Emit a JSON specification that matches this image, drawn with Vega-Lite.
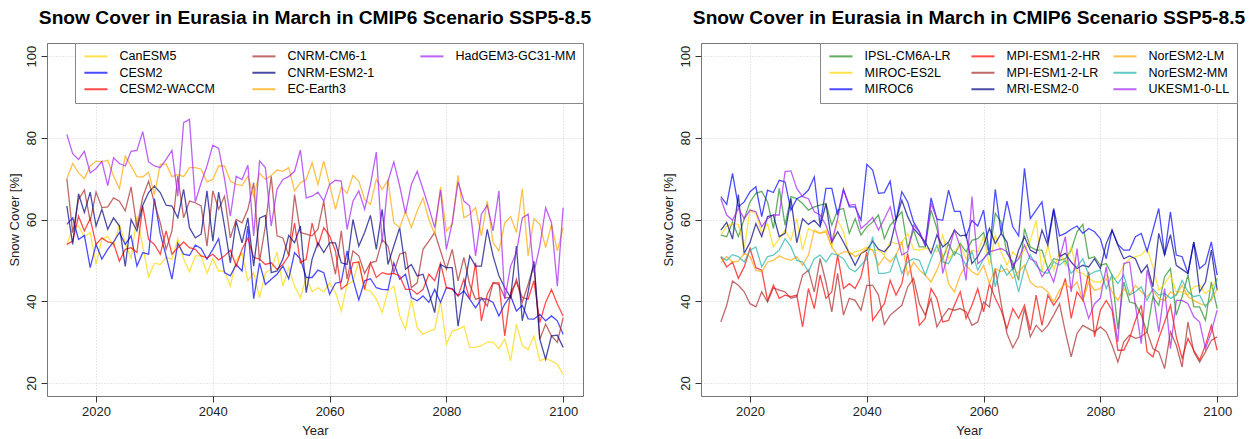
{
  "$schema": "https://vega.github.io/schema/vega-lite/v6.json",
  "padding": {"left": 7, "top": 8, "right": 4, "bottom": 2},
  "spacing": 69,
  "config": {
    "font": "Liberation Sans",
    "view": {"stroke": "#777", "strokeWidth": 1},
    "axis": {"domain": false, "tickColor": "#333", "tickSize": 6, "labelFontSize": 13, "titleFontSize": 13, "titleFontWeight": "normal", "labelColor": "#222", "titleColor": "#222", "gridColor": "#d3d3d3", "gridDash": [1, 2], "gridWidth": 1, "labelPadding": 3},
    "title": {"fontSize": 19.2, "fontWeight": "bold", "font": "Liberation Sans", "color": "black", "offset": 14, "anchor": "middle"},
    "legend": {"orient": "top-right", "offset": 0, "columns": 3, "title": null, "symbolType": "M-1,0H5", "symbolStrokeWidth": 2, "symbolSize": 59, "strokeColor": "#888", "fillColor": "white", "padding": 7, "rowPadding": 3.5, "columnPadding": 8, "gridAlign": "all", "labelFontSize": 12.5, "labelOffset": 25, "labelColor": "black", "symbolOpacity": 0.7, "labelLimit": 300}
  },
  "datasets": {
    "left": [
      {"Year":2015,"CanESM5":53.9,"CESM2":58.8,"CESM2-WACCM":53.9,"CNRM-CM6-1":70,"CNRM-ESM2-1":63.3,"EC-Earth3":70,"HadGEM3-GC31-MM":80.8},
      {"Year":2016,"CanESM5":58,"CESM2":60.4,"CESM2-WACCM":54.7,"CNRM-CM6-1":56.8,"CNRM-ESM2-1":53.9,"EC-Earth3":73.7,"HadGEM3-GC31-MM":76.1},
      {"Year":2017,"CanESM5":58.4,"CESM2":55.1,"CESM2-WACCM":60.8,"CNRM-CM6-1":64.9,"CNRM-ESM2-1":66.3,"EC-Earth3":71.4,"HadGEM3-GC31-MM":74.7},
      {"Year":2018,"CanESM5":55.8,"CESM2":56.1,"CESM2-WACCM":57.2,"CNRM-CM6-1":67.2,"CNRM-ESM2-1":61.7,"EC-Earth3":70,"HadGEM3-GC31-MM":76.7},
      {"Year":2019,"CanESM5":56.8,"CESM2":48.2,"CESM2-WACCM":60.2,"CNRM-CM6-1":59.6,"CNRM-ESM2-1":66.7,"EC-Earth3":73.1,"HadGEM3-GC31-MM":71.4},
      {"Year":2020,"CanESM5":49,"CESM2":53.9,"CESM2-WACCM":53.9,"CNRM-CM6-1":66.7,"CNRM-ESM2-1":58.4,"EC-Earth3":74.3,"HadGEM3-GC31-MM":72.5},
      {"Year":2021,"CanESM5":55.1,"CESM2":50.3,"CESM2-WACCM":55.5,"CNRM-CM6-1":62.9,"CNRM-ESM2-1":62.5,"EC-Earth3":74.1,"HadGEM3-GC31-MM":74.2},
      {"Year":2022,"CanESM5":55.9,"CESM2":52.7,"CESM2-WACCM":54.5,"CNRM-CM6-1":63.1,"CNRM-ESM2-1":57.6,"EC-Earth3":74.5,"HadGEM3-GC31-MM":68.3},
      {"Year":2023,"CanESM5":53.5,"CESM2":54.5,"CESM2-WACCM":54.2,"CNRM-CM6-1":65.3,"CNRM-ESM2-1":60.4,"EC-Earth3":70.6,"HadGEM3-GC31-MM":75.1},
      {"Year":2024,"CanESM5":58.8,"CESM2":56.8,"CESM2-WACCM":49.8,"CNRM-CM6-1":64.5,"CNRM-ESM2-1":58.4,"EC-Earth3":67.5,"HadGEM3-GC31-MM":73.7},
      {"Year":2025,"CanESM5":54.3,"CESM2":53.9,"CESM2-WACCM":52.7,"CNRM-CM6-1":62.1,"CNRM-ESM2-1":48.5,"EC-Earth3":75.5,"HadGEM3-GC31-MM":73.1},
      {"Year":2026,"CanESM5":50.4,"CESM2":56,"CESM2-WACCM":53.1,"CNRM-CM6-1":68,"CNRM-ESM2-1":60,"EC-Earth3":73.1,"HadGEM3-GC31-MM":76.7},
      {"Year":2027,"CanESM5":60.8,"CESM2":48.6,"CESM2-WACCM":51.9,"CNRM-CM6-1":58,"CNRM-ESM2-1":57.2,"EC-Earth3":70.5,"HadGEM3-GC31-MM":76.9},
      {"Year":2028,"CanESM5":53.5,"CESM2":51.9,"CESM2-WACCM":63.3,"CNRM-CM6-1":65.5,"CNRM-ESM2-1":63.5,"EC-Earth3":70.4,"HadGEM3-GC31-MM":81.5},
      {"Year":2029,"CanESM5":46,"CESM2":51.5,"CESM2-WACCM":55.1,"CNRM-CM6-1":69.4,"CNRM-ESM2-1":66.6,"EC-Earth3":71.6,"HadGEM3-GC31-MM":74.1},
      {"Year":2030,"CanESM5":49.3,"CESM2":65.1,"CESM2-WACCM":53.9,"CNRM-CM6-1":64.1,"CNRM-ESM2-1":68.2,"EC-Earth3":66.1,"HadGEM3-GC31-MM":73.1},
      {"Year":2031,"CanESM5":49,"CESM2":56.4,"CESM2-WACCM":51.5,"CNRM-CM6-1":59.2,"CNRM-ESM2-1":66.6,"EC-Earth3":73.5,"HadGEM3-GC31-MM":72.7},
      {"Year":2032,"CanESM5":50.7,"CESM2":51.1,"CESM2-WACCM":57.2,"CNRM-CM6-1":52.7,"CNRM-ESM2-1":63.5,"EC-Earth3":73.6,"HadGEM3-GC31-MM":74.7},
      {"Year":2033,"CanESM5":50.3,"CESM2":45.4,"CESM2-WACCM":51.5,"CNRM-CM6-1":57.2,"CNRM-ESM2-1":63.3,"EC-Earth3":70.5,"HadGEM3-GC31-MM":76.9},
      {"Year":2034,"CanESM5":55.3,"CESM2":54.2,"CESM2-WACCM":53.1,"CNRM-CM6-1":70.6,"CNRM-ESM2-1":60.4,"EC-Earth3":71,"HadGEM3-GC31-MM":65.7},
      {"Year":2035,"CanESM5":50.3,"CESM2":51.5,"CESM2-WACCM":54.5,"CNRM-CM6-1":60.4,"CNRM-ESM2-1":67.4,"EC-Earth3":70.5,"HadGEM3-GC31-MM":83.7},
      {"Year":2036,"CanESM5":47.2,"CESM2":51.2,"CESM2-WACCM":53.1,"CNRM-CM6-1":64.5,"CNRM-ESM2-1":58,"EC-Earth3":72.7,"HadGEM3-GC31-MM":84.5},
      {"Year":2037,"CanESM5":51.1,"CESM2":53.7,"CESM2-WACCM":52.7,"CNRM-CM6-1":64.1,"CNRM-ESM2-1":55.5,"EC-Earth3":72.7,"HadGEM3-GC31-MM":64.3},
      {"Year":2038,"CanESM5":51.1,"CESM2":52.9,"CESM2-WACCM":51.1,"CNRM-CM6-1":63.3,"CNRM-ESM2-1":56.4,"EC-Earth3":72.3,"HadGEM3-GC31-MM":69},
      {"Year":2039,"CanESM5":46.8,"CESM2":50.3,"CESM2-WACCM":50.6,"CNRM-CM6-1":53.5,"CNRM-ESM2-1":67,"EC-Earth3":69.2,"HadGEM3-GC31-MM":73.1},
      {"Year":2040,"CanESM5":50.4,"CESM2":52.7,"CESM2-WACCM":51.5,"CNRM-CM6-1":67,"CNRM-ESM2-1":54.7,"EC-Earth3":69.8,"HadGEM3-GC31-MM":78.2},
      {"Year":2041,"CanESM5":47.4,"CESM2":55.3,"CESM2-WACCM":50.1,"CNRM-CM6-1":62.5,"CNRM-ESM2-1":66.7,"EC-Earth3":73.1,"HadGEM3-GC31-MM":77.4},
      {"Year":2042,"CanESM5":47.4,"CESM2":47,"CESM2-WACCM":51.1,"CNRM-CM6-1":65.7,"CNRM-ESM2-1":58.4,"EC-Earth3":73.1,"HadGEM3-GC31-MM":70},
      {"Year":2043,"CanESM5":43.7,"CESM2":46.2,"CESM2-WACCM":52.5,"CNRM-CM6-1":55.5,"CNRM-ESM2-1":49.4,"EC-Earth3":69.4,"HadGEM3-GC31-MM":60.8},
      {"Year":2044,"CanESM5":50.1,"CESM2":49,"CESM2-WACCM":48.6,"CNRM-CM6-1":60,"CNRM-ESM2-1":59.6,"EC-Earth3":68.6,"HadGEM3-GC31-MM":70.6},
      {"Year":2045,"CanESM5":51.7,"CESM2":47.4,"CESM2-WACCM":52.7,"CNRM-CM6-1":59.2,"CNRM-ESM2-1":54.3,"EC-Earth3":68.3,"HadGEM3-GC31-MM":69.8},
      {"Year":2046,"CanESM5":45,"CESM2":58.4,"CESM2-WACCM":55.5,"CNRM-CM6-1":62.5,"CNRM-ESM2-1":60.4,"EC-Earth3":70.6,"HadGEM3-GC31-MM":73.3},
      {"Year":2047,"CanESM5":47,"CESM2":40.6,"CESM2-WACCM":50.7,"CNRM-CM6-1":69,"CNRM-ESM2-1":48.6,"EC-Earth3":65.7,"HadGEM3-GC31-MM":56},
      {"Year":2048,"CanESM5":40.9,"CESM2":49.4,"CESM2-WACCM":50.3,"CNRM-CM6-1":49.8,"CNRM-ESM2-1":60.3,"EC-Earth3":71.3,"HadGEM3-GC31-MM":74.3},
      {"Year":2049,"CanESM5":47,"CESM2":44.1,"CESM2-WACCM":49,"CNRM-CM6-1":58.4,"CNRM-ESM2-1":61,"EC-Earth3":69.8,"HadGEM3-GC31-MM":72.7},
      {"Year":2050,"CanESM5":47.8,"CESM2":45.4,"CESM2-WACCM":49.4,"CNRM-CM6-1":70.6,"CNRM-ESM2-1":47,"EC-Earth3":70.8,"HadGEM3-GC31-MM":58.4},
      {"Year":2051,"CanESM5":52,"CESM2":46.6,"CESM2-WACCM":47.8,"CNRM-CM6-1":56,"CNRM-ESM2-1":47.4,"EC-Earth3":72.1,"HadGEM3-GC31-MM":67.4},
      {"Year":2052,"CanESM5":43.7,"CESM2":48.6,"CESM2-WACCM":49,"CNRM-CM6-1":55.5,"CNRM-ESM2-1":50.3,"EC-Earth3":71.8,"HadGEM3-GC31-MM":69.8},
      {"Year":2053,"CanESM5":48.2,"CESM2":45.5,"CESM2-WACCM":51.1,"CNRM-CM6-1":51.1,"CNRM-ESM2-1":56.1,"EC-Earth3":72.7,"HadGEM3-GC31-MM":70.5},
      {"Year":2054,"CanESM5":43.7,"CESM2":51.9,"CESM2-WACCM":59.1,"CNRM-CM6-1":66.1,"CNRM-ESM2-1":54.3,"EC-Earth3":67,"HadGEM3-GC31-MM":71.8},
      {"Year":2055,"CanESM5":40.9,"CESM2":50.3,"CESM2-WACCM":49.4,"CNRM-CM6-1":56.8,"CNRM-ESM2-1":58.4,"EC-Earth3":69,"HadGEM3-GC31-MM":77},
      {"Year":2056,"CanESM5":45.8,"CESM2":45.8,"CESM2-WACCM":50.3,"CNRM-CM6-1":56.4,"CNRM-ESM2-1":42.1,"EC-Earth3":69.8,"HadGEM3-GC31-MM":65.3},
      {"Year":2057,"CanESM5":42.3,"CESM2":45.8,"CESM2-WACCM":59.1,"CNRM-CM6-1":56,"CNRM-ESM2-1":50.3,"EC-Earth3":73.9,"HadGEM3-GC31-MM":65.7},
      {"Year":2058,"CanESM5":43.3,"CESM2":47.6,"CESM2-WACCM":53.5,"CNRM-CM6-1":57.6,"CNRM-ESM2-1":54.3,"EC-Earth3":68.6,"HadGEM3-GC31-MM":66.7},
      {"Year":2059,"CanESM5":42.3,"CESM2":47,"CESM2-WACCM":58,"CNRM-CM6-1":64.5,"CNRM-ESM2-1":51.9,"EC-Earth3":74.3,"HadGEM3-GC31-MM":64.5},
      {"Year":2060,"CanESM5":44.5,"CESM2":41.7,"CESM2-WACCM":56,"CNRM-CM6-1":53.5,"CNRM-ESM2-1":54.3,"EC-Earth3":68.6,"HadGEM3-GC31-MM":68.6},
      {"Year":2061,"CanESM5":42.1,"CESM2":44.4,"CESM2-WACCM":52.3,"CNRM-CM6-1":46.6,"CNRM-ESM2-1":54.3,"EC-Earth3":62.5,"HadGEM3-GC31-MM":69.6},
      {"Year":2062,"CanESM5":37.6,"CESM2":44.7,"CESM2-WACCM":42.9,"CNRM-CM6-1":57.2,"CNRM-ESM2-1":49.4,"EC-Earth3":67.9,"HadGEM3-GC31-MM":69.4},
      {"Year":2063,"CanESM5":44.1,"CESM2":52.3,"CESM2-WACCM":44.1,"CNRM-CM6-1":45.4,"CNRM-ESM2-1":49,"EC-Earth3":66.4,"HadGEM3-GC31-MM":57.6},
      {"Year":2064,"CanESM5":44.9,"CESM2":45.4,"CESM2-WACCM":49.4,"CNRM-CM6-1":52.3,"CNRM-ESM2-1":60,"EC-Earth3":70.8,"HadGEM3-GC31-MM":64.5},
      {"Year":2065,"CanESM5":49.8,"CESM2":40.3,"CESM2-WACCM":49.6,"CNRM-CM6-1":51.1,"CNRM-ESM2-1":53.5,"EC-Earth3":69.4,"HadGEM3-GC31-MM":67},
      {"Year":2066,"CanESM5":42.9,"CESM2":45,"CESM2-WACCM":42.9,"CNRM-CM6-1":46.8,"CNRM-ESM2-1":56.8,"EC-Earth3":64.9,"HadGEM3-GC31-MM":62.5},
      {"Year":2067,"CanESM5":42.5,"CESM2":45.5,"CESM2-WACCM":49.4,"CNRM-CM6-1":49.4,"CNRM-ESM2-1":61,"EC-Earth3":63.7,"HadGEM3-GC31-MM":68.6},
      {"Year":2068,"CanESM5":40.5,"CESM2":43.3,"CESM2-WACCM":45.8,"CNRM-CM6-1":49.8,"CNRM-ESM2-1":52.7,"EC-Earth3":69.8,"HadGEM3-GC31-MM":76.5},
      {"Year":2069,"CanESM5":37.2,"CESM2":42.9,"CESM2-WACCM":47,"CNRM-CM6-1":55.1,"CNRM-ESM2-1":62.5,"EC-Earth3":67.4,"HadGEM3-GC31-MM":54.3},
      {"Year":2070,"CanESM5":42.5,"CESM2":42.8,"CESM2-WACCM":46.6,"CNRM-CM6-1":53.5,"CNRM-ESM2-1":49,"EC-Earth3":69.6,"HadGEM3-GC31-MM":69.4},
      {"Year":2071,"CanESM5":43.7,"CESM2":49.4,"CESM2-WACCM":46.8,"CNRM-CM6-1":47,"CNRM-ESM2-1":53.5,"EC-Earth3":59.2,"HadGEM3-GC31-MM":74.1},
      {"Year":2072,"CanESM5":36.4,"CESM2":45.4,"CESM2-WACCM":46.2,"CNRM-CM6-1":51.5,"CNRM-ESM2-1":58,"EC-Earth3":58,"HadGEM3-GC31-MM":68.2},
      {"Year":2073,"CanESM5":33.1,"CESM2":46.6,"CESM2-WACCM":42.9,"CNRM-CM6-1":52,"CNRM-ESM2-1":47.8,"EC-Earth3":62,"HadGEM3-GC31-MM":61.5},
      {"Year":2074,"CanESM5":40.5,"CESM2":40.9,"CESM2-WACCM":42.9,"CNRM-CM6-1":43.3,"CNRM-ESM2-1":49,"EC-Earth3":58,"HadGEM3-GC31-MM":68.6},
      {"Year":2075,"CanESM5":33.5,"CESM2":40.1,"CESM2-WACCM":41.7,"CNRM-CM6-1":44.5,"CNRM-ESM2-1":46.2,"EC-Earth3":62.1,"HadGEM3-GC31-MM":71.8},
      {"Year":2076,"CanESM5":31.9,"CESM2":41.3,"CESM2-WACCM":42.9,"CNRM-CM6-1":52.7,"CNRM-ESM2-1":46.6,"EC-Earth3":65.3,"HadGEM3-GC31-MM":67.4},
      {"Year":2077,"CanESM5":32.7,"CESM2":39.7,"CESM2-WACCM":46.6,"CNRM-CM6-1":54.7,"CNRM-ESM2-1":42.1,"EC-Earth3":60,"HadGEM3-GC31-MM":62.9},
      {"Year":2078,"CanESM5":33.1,"CESM2":42.9,"CESM2-WACCM":45,"CNRM-CM6-1":56.8,"CNRM-ESM2-1":37.2,"EC-Earth3":56.4,"HadGEM3-GC31-MM":58},
      {"Year":2079,"CanESM5":40.1,"CESM2":39.7,"CESM2-WACCM":49.3,"CNRM-CM6-1":52.3,"CNRM-ESM2-1":49,"EC-Earth3":68,"HadGEM3-GC31-MM":67.2},
      {"Year":2080,"CanESM5":29.5,"CESM2":43.3,"CESM2-WACCM":43.3,"CNRM-CM6-1":47.8,"CNRM-ESM2-1":48.2,"EC-Earth3":57.2,"HadGEM3-GC31-MM":52.7},
      {"Year":2081,"CanESM5":32.7,"CESM2":43.1,"CESM2-WACCM":42.9,"CNRM-CM6-1":52.7,"CNRM-ESM2-1":48.2,"EC-Earth3":58.8,"HadGEM3-GC31-MM":59.2},
      {"Year":2082,"CanESM5":33.1,"CESM2":41.3,"CESM2-WACCM":41.3,"CNRM-CM6-1":45,"CNRM-ESM2-1":33.9,"EC-Earth3":70.8,"HadGEM3-GC31-MM":69.2},
      {"Year":2083,"CanESM5":33.9,"CESM2":42.5,"CESM2-WACCM":45.4,"CNRM-CM6-1":50.7,"CNRM-ESM2-1":42.9,"EC-Earth3":60.4,"HadGEM3-GC31-MM":64.5},
      {"Year":2084,"CanESM5":28.7,"CESM2":40.5,"CESM2-WACCM":40.5,"CNRM-CM6-1":44.1,"CNRM-ESM2-1":51.1,"EC-Earth3":61.3,"HadGEM3-GC31-MM":63.3},
      {"Year":2085,"CanESM5":28.7,"CESM2":38.4,"CESM2-WACCM":49.4,"CNRM-CM6-1":40.5,"CNRM-ESM2-1":48.6,"EC-Earth3":62.9,"HadGEM3-GC31-MM":51.1},
      {"Year":2086,"CanESM5":29.1,"CESM2":40.6,"CESM2-WACCM":35.2,"CNRM-CM6-1":40.9,"CNRM-ESM2-1":48.6,"EC-Earth3":56,"HadGEM3-GC31-MM":61.3},
      {"Year":2087,"CanESM5":30,"CESM2":40.5,"CESM2-WACCM":41.7,"CNRM-CM6-1":38.8,"CNRM-ESM2-1":57.6,"EC-Earth3":64.5,"HadGEM3-GC31-MM":63.5},
      {"Year":2088,"CanESM5":30,"CESM2":39.7,"CESM2-WACCM":44.5,"CNRM-CM6-1":44.5,"CNRM-ESM2-1":51.1,"EC-Earth3":54.3,"HadGEM3-GC31-MM":57.2},
      {"Year":2089,"CanESM5":28.4,"CESM2":36.4,"CESM2-WACCM":44.5,"CNRM-CM6-1":44.1,"CNRM-ESM2-1":46.2,"EC-Earth3":52.3,"HadGEM3-GC31-MM":67},
      {"Year":2090,"CanESM5":30.7,"CESM2":39.3,"CESM2-WACCM":31.5,"CNRM-CM6-1":40.9,"CNRM-ESM2-1":43.3,"EC-Earth3":59.2,"HadGEM3-GC31-MM":40.5},
      {"Year":2091,"CanESM5":25.4,"CESM2":41.3,"CESM2-WACCM":42.1,"CNRM-CM6-1":40.9,"CNRM-ESM2-1":40.9,"EC-Earth3":60.7,"HadGEM3-GC31-MM":48.6},
      {"Year":2092,"CanESM5":34.4,"CESM2":37.6,"CESM2-WACCM":44.7,"CNRM-CM6-1":45.4,"CNRM-ESM2-1":53.5,"EC-Earth3":56.8,"HadGEM3-GC31-MM":51.9},
      {"Year":2093,"CanESM5":29.1,"CESM2":39,"CESM2-WACCM":40.9,"CNRM-CM6-1":39.7,"CNRM-ESM2-1":35.2,"EC-Earth3":67.5,"HadGEM3-GC31-MM":60.4},
      {"Year":2094,"CanESM5":28.2,"CESM2":35.7,"CESM2-WACCM":40.5,"CNRM-CM6-1":44.1,"CNRM-ESM2-1":42.3,"EC-Earth3":51.1,"HadGEM3-GC31-MM":61.3},
      {"Year":2095,"CanESM5":31.5,"CESM2":35.6,"CESM2-WACCM":45,"CNRM-CM6-1":49,"CNRM-ESM2-1":49.8,"EC-Earth3":60.2,"HadGEM3-GC31-MM":47},
      {"Year":2096,"CanESM5":25.4,"CESM2":36.8,"CESM2-WACCM":34.8,"CNRM-CM6-1":30.7,"CNRM-ESM2-1":30.7,"EC-Earth3":58.8,"HadGEM3-GC31-MM":53.5},
      {"Year":2097,"CanESM5":26,"CESM2":35.2,"CESM2-WACCM":39.7,"CNRM-CM6-1":34.4,"CNRM-ESM2-1":25.8,"EC-Earth3":53.1,"HadGEM3-GC31-MM":62.9},
      {"Year":2098,"CanESM5":25.4,"CESM2":36.4,"CESM2-WACCM":42.9,"CNRM-CM6-1":31.5,"CNRM-ESM2-1":31.5,"EC-Earth3":58.8,"HadGEM3-GC31-MM":59.2},
      {"Year":2099,"CanESM5":24.6,"CESM2":35.2,"CESM2-WACCM":39.3,"CNRM-CM6-1":29.9,"CNRM-ESM2-1":31.7,"EC-Earth3":52.3,"HadGEM3-GC31-MM":43.7},
      {"Year":2100,"CanESM5":22.1,"CESM2":31.9,"CESM2-WACCM":36.4,"CNRM-CM6-1":36,"CNRM-ESM2-1":28.7,"EC-Earth3":58,"HadGEM3-GC31-MM":62.9}
    ],
    "right": [
      {"Year":2015,"IPSL-CM6A-LR":56.2,"MIROC-ES2L":56.2,"MIROC6":65.6,"MPI-ESM1-2-HR":50.9,"MPI-ESM1-2-LR":34.9,"MRI-ESM2-0":57.4,"NorESM2-LM":49.5,"NorESM2-MM":50.9,"UKESM1-0-LL":65.1},
      {"Year":2016,"IPSL-CM6A-LR":55.8,"MIROC-ES2L":58.4,"MIROC6":63.7,"MPI-ESM1-2-HR":48.4,"MPI-ESM1-2-LR":39,"MRI-ESM2-0":59.3,"NorESM2-LM":50.9,"NorESM2-MM":50,"UKESM1-0-LL":61.1},
      {"Year":2017,"IPSL-CM6A-LR":59.4,"MIROC-ES2L":59,"MIROC6":71.3,"MPI-ESM1-2-HR":49.6,"MPI-ESM1-2-LR":44.9,"MRI-ESM2-0":55.2,"NorESM2-LM":49.6,"NorESM2-MM":51.4,"UKESM1-0-LL":59.8},
      {"Year":2018,"IPSL-CM6A-LR":55.8,"MIROC-ES2L":58.8,"MIROC6":63.1,"MPI-ESM1-2-HR":45.6,"MPI-ESM1-2-LR":43.9,"MRI-ESM2-0":66.1,"NorESM2-LM":49.8,"NorESM2-MM":50.9,"UKESM1-0-LL":62.7},
      {"Year":2019,"IPSL-CM6A-LR":60.2,"MIROC-ES2L":52.9,"MIROC6":64.3,"MPI-ESM1-2-HR":48.4,"MPI-ESM1-2-LR":42.3,"MRI-ESM2-0":51.7,"NorESM2-LM":51.7,"NorESM2-MM":49.6,"UKESM1-0-LL":60.2},
      {"Year":2020,"IPSL-CM6A-LR":64.3,"MIROC-ES2L":62.3,"MIROC6":66.8,"MPI-ESM1-2-HR":52.9,"MPI-ESM1-2-LR":39.4,"MRI-ESM2-0":54.4,"NorESM2-LM":50.9,"NorESM2-MM":52.5,"UKESM1-0-LL":62.3},
      {"Year":2021,"IPSL-CM6A-LR":66.4,"MIROC-ES2L":61.5,"MIROC6":68,"MPI-ESM1-2-HR":48.2,"MPI-ESM1-2-LR":38.6,"MRI-ESM2-0":59,"NorESM2-LM":47.6,"NorESM2-MM":53.3,"UKESM1-0-LL":61.9},
      {"Year":2022,"IPSL-CM6A-LR":66.9,"MIROC-ES2L":56.6,"MIROC6":60.7,"MPI-ESM1-2-HR":47.6,"MPI-ESM1-2-LR":42.3,"MRI-ESM2-0":55.8,"NorESM2-LM":47.2,"NorESM2-MM":48.4,"UKESM1-0-LL":58.2},
      {"Year":2023,"IPSL-CM6A-LR":64.3,"MIROC-ES2L":59,"MIROC6":67.2,"MPI-ESM1-2-HR":40.2,"MPI-ESM1-2-LR":39.8,"MRI-ESM2-0":60.7,"NorESM2-LM":49.6,"NorESM2-MM":50.9,"UKESM1-0-LL":60.2},
      {"Year":2024,"IPSL-CM6A-LR":57.8,"MIROC-ES2L":53.3,"MIROC6":66.6,"MPI-ESM1-2-HR":43.9,"MPI-ESM1-2-LR":43.3,"MRI-ESM2-0":61.1,"NorESM2-LM":50,"NorESM2-MM":51.3,"UKESM1-0-LL":61.1},
      {"Year":2025,"IPSL-CM6A-LR":67.6,"MIROC-ES2L":55.3,"MIROC6":69.6,"MPI-ESM1-2-HR":40.7,"MPI-ESM1-2-LR":42.7,"MRI-ESM2-0":55.8,"NorESM2-LM":51.1,"NorESM2-MM":52.5,"UKESM1-0-LL":61.1},
      {"Year":2026,"IPSL-CM6A-LR":58.6,"MIROC-ES2L":57.4,"MIROC6":69.2,"MPI-ESM1-2-HR":41.5,"MPI-ESM1-2-LR":42.3,"MRI-ESM2-0":56.6,"NorESM2-LM":50.4,"NorESM2-MM":55.3,"UKESM1-0-LL":71.7},
      {"Year":2027,"IPSL-CM6A-LR":65.6,"MIROC-ES2L":54.9,"MIROC6":62.3,"MPI-ESM1-2-HR":41.1,"MPI-ESM1-2-LR":40.7,"MRI-ESM2-0":65.1,"NorESM2-LM":50,"NorESM2-MM":53.3,"UKESM1-0-LL":71.9},
      {"Year":2028,"IPSL-CM6A-LR":65.1,"MIROC-ES2L":60.2,"MIROC6":65.1,"MPI-ESM1-2-HR":41.5,"MPI-ESM1-2-LR":41.1,"MRI-ESM2-0":54.3,"NorESM2-LM":50.9,"NorESM2-MM":50,"UKESM1-0-LL":67.6},
      {"Year":2029,"IPSL-CM6A-LR":63.9,"MIROC-ES2L":52.5,"MIROC6":65.8,"MPI-ESM1-2-HR":33.7,"MPI-ESM1-2-LR":46.4,"MRI-ESM2-0":60.2,"NorESM2-LM":48.8,"NorESM2-MM":49.6,"UKESM1-0-LL":65.6},
      {"Year":2030,"IPSL-CM6A-LR":62.3,"MIROC-ES2L":57.8,"MIROC6":67.2,"MPI-ESM1-2-HR":43.1,"MPI-ESM1-2-LR":47.6,"MRI-ESM2-0":58.8,"NorESM2-LM":51.3,"NorESM2-MM":47.2,"UKESM1-0-LL":65.1},
      {"Year":2031,"IPSL-CM6A-LR":63.1,"MIROC-ES2L":57,"MIROC6":70.4,"MPI-ESM1-2-HR":38.2,"MPI-ESM1-2-LR":42.3,"MRI-ESM2-0":59.8,"NorESM2-LM":57.4,"NorESM2-MM":50.4,"UKESM1-0-LL":61.9},
      {"Year":2032,"IPSL-CM6A-LR":63.5,"MIROC-ES2L":56.6,"MIROC6":58.6,"MPI-ESM1-2-HR":46.4,"MPI-ESM1-2-LR":50.4,"MRI-ESM2-0":58.2,"NorESM2-LM":56.6,"NorESM2-MM":51.3,"UKESM1-0-LL":61.1},
      {"Year":2033,"IPSL-CM6A-LR":63.9,"MIROC-ES2L":57.4,"MIROC6":67.6,"MPI-ESM1-2-HR":40.7,"MPI-ESM1-2-LR":44.7,"MRI-ESM2-0":63.9,"NorESM2-LM":57,"NorESM2-MM":49.6,"UKESM1-0-LL":58.6},
      {"Year":2034,"IPSL-CM6A-LR":58.6,"MIROC-ES2L":53.3,"MIROC6":67.6,"MPI-ESM1-2-HR":42.3,"MPI-ESM1-2-LR":37.4,"MRI-ESM2-0":54.5,"NorESM2-LM":53.3,"NorESM2-MM":51.7,"UKESM1-0-LL":54.5},
      {"Year":2035,"IPSL-CM6A-LR":62.3,"MIROC-ES2L":59.8,"MIROC6":61.1,"MPI-ESM1-2-HR":51.3,"MPI-ESM1-2-LR":46.8,"MRI-ESM2-0":57,"NorESM2-LM":51.3,"NorESM2-MM":51.3,"UKESM1-0-LL":60.2},
      {"Year":2036,"IPSL-CM6A-LR":62.7,"MIROC-ES2L":57,"MIROC6":67.4,"MPI-ESM1-2-HR":43.1,"MPI-ESM1-2-LR":36.6,"MRI-ESM2-0":54.5,"NorESM2-LM":52.1,"NorESM2-MM":50.4,"UKESM1-0-LL":67.2},
      {"Year":2037,"IPSL-CM6A-LR":56.6,"MIROC-ES2L":51.3,"MIROC6":63.1,"MPI-ESM1-2-HR":44.3,"MPI-ESM1-2-LR":40.7,"MRI-ESM2-0":51.7,"NorESM2-LM":52.1,"NorESM2-MM":48,"UKESM1-0-LL":63.5},
      {"Year":2038,"IPSL-CM6A-LR":60.2,"MIROC-ES2L":52.1,"MIROC6":63.1,"MPI-ESM1-2-HR":43.1,"MPI-ESM1-2-LR":40.2,"MRI-ESM2-0":48.8,"NorESM2-LM":50.9,"NorESM2-MM":47.2,"UKESM1-0-LL":63.7},
      {"Year":2039,"IPSL-CM6A-LR":56.2,"MIROC-ES2L":52.5,"MIROC6":59.8,"MPI-ESM1-2-HR":46,"MPI-ESM1-2-LR":37.8,"MRI-ESM2-0":51.7,"NorESM2-LM":51.7,"NorESM2-MM":48.8,"UKESM1-0-LL":57.8},
      {"Year":2040,"IPSL-CM6A-LR":58.2,"MIROC-ES2L":53.3,"MIROC6":73.5,"MPI-ESM1-2-HR":52.1,"MPI-ESM1-2-LR":43.9,"MRI-ESM2-0":52.5,"NorESM2-LM":52.9,"NorESM2-MM":50.4,"UKESM1-0-LL":59},
      {"Year":2041,"IPSL-CM6A-LR":59.4,"MIROC-ES2L":52.5,"MIROC6":72.1,"MPI-ESM1-2-HR":35.3,"MPI-ESM1-2-LR":43.9,"MRI-ESM2-0":54.7,"NorESM2-LM":52.5,"NorESM2-MM":55.8,"UKESM1-0-LL":60.5},
      {"Year":2042,"IPSL-CM6A-LR":61.1,"MIROC-ES2L":52.5,"MIROC6":66.4,"MPI-ESM1-2-HR":37.4,"MPI-ESM1-2-LR":41.5,"MRI-ESM2-0":52.7,"NorESM2-LM":48.8,"NorESM2-MM":46.8,"UKESM1-0-LL":57.4},
      {"Year":2043,"IPSL-CM6A-LR":55.3,"MIROC-ES2L":51.3,"MIROC6":66.6,"MPI-ESM1-2-HR":39.4,"MPI-ESM1-2-LR":34.3,"MRI-ESM2-0":52.1,"NorESM2-LM":50.9,"NorESM2-MM":46.8,"UKESM1-0-LL":60.2},
      {"Year":2044,"IPSL-CM6A-LR":58.6,"MIROC-ES2L":54.5,"MIROC6":69.4,"MPI-ESM1-2-HR":45.1,"MPI-ESM1-2-LR":36.6,"MRI-ESM2-0":53.7,"NorESM2-LM":49.6,"NorESM2-MM":47.2,"UKESM1-0-LL":63.1},
      {"Year":2045,"IPSL-CM6A-LR":60.2,"MIROC-ES2L":54.1,"MIROC6":59.8,"MPI-ESM1-2-HR":41.5,"MPI-ESM1-2-LR":37.8,"MRI-ESM2-0":59.8,"NorESM2-LM":51.3,"NorESM2-MM":51.3,"UKESM1-0-LL":57},
      {"Year":2046,"IPSL-CM6A-LR":61.9,"MIROC-ES2L":54.4,"MIROC6":66.8,"MPI-ESM1-2-HR":44.3,"MPI-ESM1-2-LR":39,"MRI-ESM2-0":64.7,"NorESM2-LM":54.5,"NorESM2-MM":46.8,"UKESM1-0-LL":51.3},
      {"Year":2047,"IPSL-CM6A-LR":52.9,"MIROC-ES2L":56.6,"MIROC6":64.3,"MPI-ESM1-2-HR":51.7,"MPI-ESM1-2-LR":43.5,"MRI-ESM2-0":60.7,"NorESM2-LM":46.4,"NorESM2-MM":49.6,"UKESM1-0-LL":52.1},
      {"Year":2048,"IPSL-CM6A-LR":57.4,"MIROC-ES2L":52.7,"MIROC6":59.4,"MPI-ESM1-2-HR":43.5,"MPI-ESM1-2-LR":45.6,"MRI-ESM2-0":57.8,"NorESM2-LM":49.6,"NorESM2-MM":50.4,"UKESM1-0-LL":58.6},
      {"Year":2049,"IPSL-CM6A-LR":53.3,"MIROC-ES2L":52.5,"MIROC6":57,"MPI-ESM1-2-HR":34.1,"MPI-ESM1-2-LR":39.4,"MRI-ESM2-0":56.2,"NorESM2-LM":47.6,"NorESM2-MM":50,"UKESM1-0-LL":57},
      {"Year":2050,"IPSL-CM6A-LR":53.3,"MIROC-ES2L":52.9,"MIROC6":53.7,"MPI-ESM1-2-HR":35.8,"MPI-ESM1-2-LR":36.6,"MRI-ESM2-0":54.5,"NorESM2-LM":46.4,"NorESM2-MM":46.4,"UKESM1-0-LL":53.7},
      {"Year":2051,"IPSL-CM6A-LR":62.3,"MIROC-ES2L":52.9,"MIROC6":65.3,"MPI-ESM1-2-HR":43.1,"MPI-ESM1-2-LR":40.7,"MRI-ESM2-0":51.7,"NorESM2-LM":44.7,"NorESM2-MM":50.4,"UKESM1-0-LL":63.9},
      {"Year":2052,"IPSL-CM6A-LR":57.8,"MIROC-ES2L":52.1,"MIROC6":60.1,"MPI-ESM1-2-HR":40.7,"MPI-ESM1-2-LR":33.7,"MRI-ESM2-0":56.2,"NorESM2-LM":47.6,"NorESM2-MM":53.7,"UKESM1-0-LL":60.2},
      {"Year":2053,"IPSL-CM6A-LR":50.4,"MIROC-ES2L":56.2,"MIROC6":59.8,"MPI-ESM1-2-HR":34.9,"MPI-ESM1-2-LR":36.2,"MRI-ESM2-0":53.3,"NorESM2-LM":51.3,"NorESM2-MM":49.6,"UKESM1-0-LL":46.8},
      {"Year":2054,"IPSL-CM6A-LR":54.1,"MIROC-ES2L":50.4,"MIROC6":67.2,"MPI-ESM1-2-HR":35.3,"MPI-ESM1-2-LR":38.2,"MRI-ESM2-0":54.5,"NorESM2-LM":44.3,"NorESM2-MM":49.2,"UKESM1-0-LL":52.1},
      {"Year":2055,"IPSL-CM6A-LR":51.3,"MIROC-ES2L":52.1,"MIROC6":62,"MPI-ESM1-2-HR":39,"MPI-ESM1-2-LR":37.8,"MRI-ESM2-0":57.4,"NorESM2-LM":42.3,"NorESM2-MM":52.1,"UKESM1-0-LL":57.4},
      {"Year":2056,"IPSL-CM6A-LR":54.1,"MIROC-ES2L":53.7,"MIROC6":62,"MPI-ESM1-2-HR":42.3,"MPI-ESM1-2-LR":38.2,"MRI-ESM2-0":56,"NorESM2-LM":46.4,"NorESM2-MM":51.3,"UKESM1-0-LL":53.3},
      {"Year":2057,"IPSL-CM6A-LR":52.1,"MIROC-ES2L":50.4,"MIROC6":55.8,"MPI-ESM1-2-HR":35.8,"MPI-ESM1-2-LR":37.4,"MRI-ESM2-0":56.2,"NorESM2-LM":48.8,"NorESM2-MM":48.8,"UKESM1-0-LL":45.1},
      {"Year":2058,"IPSL-CM6A-LR":54.9,"MIROC-ES2L":52.5,"MIROC6":59.8,"MPI-ESM1-2-HR":39,"MPI-ESM1-2-LR":34.1,"MRI-ESM2-0":49.2,"NorESM2-LM":47.2,"NorESM2-MM":52.1,"UKESM1-0-LL":65.6},
      {"Year":2059,"IPSL-CM6A-LR":55.3,"MIROC-ES2L":52.1,"MIROC6":58.4,"MPI-ESM1-2-HR":43.1,"MPI-ESM1-2-LR":34.9,"MRI-ESM2-0":50.9,"NorESM2-LM":46.4,"NorESM2-MM":47.6,"UKESM1-0-LL":49.2},
      {"Year":2060,"IPSL-CM6A-LR":56.8,"MIROC-ES2L":55.8,"MIROC6":62.3,"MPI-ESM1-2-HR":37.4,"MPI-ESM1-2-LR":39.8,"MRI-ESM2-0":53.7,"NorESM2-LM":48.8,"NorESM2-MM":50.4,"UKESM1-0-LL":50.4},
      {"Year":2061,"IPSL-CM6A-LR":51.3,"MIROC-ES2L":48.8,"MIROC6":51.3,"MPI-ESM1-2-HR":44.3,"MPI-ESM1-2-LR":38.6,"MRI-ESM2-0":57.8,"NorESM2-LM":44.3,"NorESM2-MM":52.5,"UKESM1-0-LL":52.1},
      {"Year":2062,"IPSL-CM6A-LR":61.5,"MIROC-ES2L":56.2,"MIROC6":67.4,"MPI-ESM1-2-HR":40.7,"MPI-ESM1-2-LR":48,"MRI-ESM2-0":54.1,"NorESM2-LM":48,"NorESM2-MM":43.5,"UKESM1-0-LL":52.5},
      {"Year":2063,"IPSL-CM6A-LR":59.4,"MIROC-ES2L":52.1,"MIROC6":56.6,"MPI-ESM1-2-HR":37.8,"MPI-ESM1-2-LR":39.4,"MRI-ESM2-0":56.6,"NorESM2-LM":47.2,"NorESM2-MM":48.8,"UKESM1-0-LL":52.9},
      {"Year":2064,"IPSL-CM6A-LR":51.7,"MIROC-ES2L":48.8,"MIROC6":64.5,"MPI-ESM1-2-HR":33.3,"MPI-ESM1-2-LR":32.1,"MRI-ESM2-0":54.5,"NorESM2-LM":48,"NorESM2-MM":46.4,"UKESM1-0-LL":52.1},
      {"Year":2065,"IPSL-CM6A-LR":49.6,"MIROC-ES2L":52.1,"MIROC6":58.2,"MPI-ESM1-2-HR":38.2,"MPI-ESM1-2-LR":28.6,"MRI-ESM2-0":47.6,"NorESM2-LM":45.6,"NorESM2-MM":48,"UKESM1-0-LL":48.8},
      {"Year":2066,"IPSL-CM6A-LR":45.1,"MIROC-ES2L":50.4,"MIROC6":56,"MPI-ESM1-2-HR":35.8,"MPI-ESM1-2-LR":31.3,"MRI-ESM2-0":52.5,"NorESM2-LM":47.2,"NorESM2-MM":42.3,"UKESM1-0-LL":50.4},
      {"Year":2067,"IPSL-CM6A-LR":57.8,"MIROC-ES2L":52.5,"MIROC6":72.5,"MPI-ESM1-2-HR":39,"MPI-ESM1-2-LR":38.2,"MRI-ESM2-0":55.8,"NorESM2-LM":48.8,"NorESM2-MM":48,"UKESM1-0-LL":53.7},
      {"Year":2068,"IPSL-CM6A-LR":53.3,"MIROC-ES2L":54.9,"MIROC6":60.2,"MPI-ESM1-2-HR":32.9,"MPI-ESM1-2-LR":31.3,"MRI-ESM2-0":52.5,"NorESM2-LM":44.7,"NorESM2-MM":51.3,"UKESM1-0-LL":50.4},
      {"Year":2069,"IPSL-CM6A-LR":52.5,"MIROC-ES2L":59.8,"MIROC6":62.3,"MPI-ESM1-2-HR":41.5,"MPI-ESM1-2-LR":34.1,"MRI-ESM2-0":51.7,"NorESM2-LM":43.5,"NorESM2-MM":48.8,"UKESM1-0-LL":49.6},
      {"Year":2070,"IPSL-CM6A-LR":52.5,"MIROC-ES2L":47.2,"MIROC6":64.3,"MPI-ESM1-2-HR":34.1,"MPI-ESM1-2-LR":32.5,"MRI-ESM2-0":57.4,"NorESM2-LM":43.5,"NorESM2-MM":47.2,"UKESM1-0-LL":46},
      {"Year":2071,"IPSL-CM6A-LR":48,"MIROC-ES2L":53.7,"MIROC6":54.5,"MPI-ESM1-2-HR":41.5,"MPI-ESM1-2-LR":34.1,"MRI-ESM2-0":53.7,"NorESM2-LM":42.3,"NorESM2-MM":46.8,"UKESM1-0-LL":48},
      {"Year":2072,"IPSL-CM6A-LR":50.4,"MIROC-ES2L":47.6,"MIROC6":62.7,"MPI-ESM1-2-HR":39,"MPI-ESM1-2-LR":36.6,"MRI-ESM2-0":62.3,"NorESM2-LM":39.8,"NorESM2-MM":49.6,"UKESM1-0-LL":44.7},
      {"Year":2073,"IPSL-CM6A-LR":50,"MIROC-ES2L":52.1,"MIROC6":56,"MPI-ESM1-2-HR":41.1,"MPI-ESM1-2-LR":39.4,"MRI-ESM2-0":50.9,"NorESM2-LM":42.7,"NorESM2-MM":48.8,"UKESM1-0-LL":50.4},
      {"Year":2074,"IPSL-CM6A-LR":50.4,"MIROC-ES2L":48.8,"MIROC6":56.6,"MPI-ESM1-2-HR":45.6,"MPI-ESM1-2-LR":32.5,"MRI-ESM2-0":51.7,"NorESM2-LM":44.3,"NorESM2-MM":50,"UKESM1-0-LL":55.8},
      {"Year":2075,"IPSL-CM6A-LR":52.5,"MIROC-ES2L":53.3,"MIROC6":57.6,"MPI-ESM1-2-HR":35.8,"MPI-ESM1-2-LR":26.4,"MRI-ESM2-0":49.6,"NorESM2-LM":43.1,"NorESM2-MM":46.8,"UKESM1-0-LL":42.3},
      {"Year":2076,"IPSL-CM6A-LR":57,"MIROC-ES2L":47.2,"MIROC6":58.4,"MPI-ESM1-2-HR":42.3,"MPI-ESM1-2-LR":32.1,"MRI-ESM2-0":48,"NorESM2-LM":44.7,"NorESM2-MM":48.4,"UKESM1-0-LL":52.9},
      {"Year":2077,"IPSL-CM6A-LR":58.8,"MIROC-ES2L":46.8,"MIROC6":56.6,"MPI-ESM1-2-HR":40.2,"MPI-ESM1-2-LR":34.1,"MRI-ESM2-0":48.8,"NorESM2-LM":40.2,"NorESM2-MM":50.4,"UKESM1-0-LL":40.7},
      {"Year":2078,"IPSL-CM6A-LR":50.4,"MIROC-ES2L":45.6,"MIROC6":57.8,"MPI-ESM1-2-HR":47.2,"MPI-ESM1-2-LR":33.3,"MRI-ESM2-0":48.4,"NorESM2-LM":44.7,"NorESM2-MM":46.4,"UKESM1-0-LL":35.8},
      {"Year":2079,"IPSL-CM6A-LR":50.9,"MIROC-ES2L":44.7,"MIROC6":57,"MPI-ESM1-2-HR":31.3,"MPI-ESM1-2-LR":32.5,"MRI-ESM2-0":50.4,"NorESM2-LM":42.7,"NorESM2-MM":47.2,"UKESM1-0-LL":39.4},
      {"Year":2080,"IPSL-CM6A-LR":48.8,"MIROC-ES2L":44.7,"MIROC6":55.3,"MPI-ESM1-2-HR":37.8,"MPI-ESM1-2-LR":33.7,"MRI-ESM2-0":48,"NorESM2-LM":43.1,"NorESM2-MM":47.6,"UKESM1-0-LL":40.7},
      {"Year":2081,"IPSL-CM6A-LR":49.2,"MIROC-ES2L":46.4,"MIROC6":50.4,"MPI-ESM1-2-HR":40.2,"MPI-ESM1-2-LR":32.5,"MRI-ESM2-0":54.1,"NorESM2-LM":45.6,"NorESM2-MM":43.1,"UKESM1-0-LL":48.4},
      {"Year":2082,"IPSL-CM6A-LR":46.4,"MIROC-ES2L":45.1,"MIROC6":57.4,"MPI-ESM1-2-HR":37.8,"MPI-ESM1-2-LR":29.2,"MRI-ESM2-0":57.4,"NorESM2-LM":42.3,"NorESM2-MM":46.4,"UKESM1-0-LL":39},
      {"Year":2083,"IPSL-CM6A-LR":33.1,"MIROC-ES2L":46,"MIROC6":53.9,"MPI-ESM1-2-HR":28,"MPI-ESM1-2-LR":25.1,"MRI-ESM2-0":53.7,"NorESM2-LM":40.2,"NorESM2-MM":44.3,"UKESM1-0-LL":30},
      {"Year":2084,"IPSL-CM6A-LR":44.7,"MIROC-ES2L":48.8,"MIROC6":52.5,"MPI-ESM1-2-HR":28,"MPI-ESM1-2-LR":30,"MRI-ESM2-0":50.4,"NorESM2-LM":43.1,"NorESM2-MM":46.4,"UKESM1-0-LL":49.2},
      {"Year":2085,"IPSL-CM6A-LR":39.8,"MIROC-ES2L":50.4,"MIROC6":52.5,"MPI-ESM1-2-HR":30.9,"MPI-ESM1-2-LR":31.7,"MRI-ESM2-0":51.1,"NorESM2-LM":41.5,"NorESM2-MM":41.5,"UKESM1-0-LL":49.6},
      {"Year":2086,"IPSL-CM6A-LR":39.4,"MIROC-ES2L":50.9,"MIROC6":55.8,"MPI-ESM1-2-HR":35.3,"MPI-ESM1-2-LR":30.9,"MRI-ESM2-0":50.4,"NorESM2-LM":43.9,"NorESM2-MM":42.3,"UKESM1-0-LL":39},
      {"Year":2087,"IPSL-CM6A-LR":36.6,"MIROC-ES2L":51.3,"MIROC6":56.6,"MPI-ESM1-2-HR":39,"MPI-ESM1-2-LR":31.3,"MRI-ESM2-0":47,"NorESM2-LM":42.3,"NorESM2-MM":43.5,"UKESM1-0-LL":29.6},
      {"Year":2088,"IPSL-CM6A-LR":32.5,"MIROC-ES2L":52.9,"MIROC6":52.2,"MPI-ESM1-2-HR":27.6,"MPI-ESM1-2-LR":32.5,"MRI-ESM2-0":48.8,"NorESM2-LM":41.1,"NorESM2-MM":40.2,"UKESM1-0-LL":47.6},
      {"Year":2089,"IPSL-CM6A-LR":41.1,"MIROC-ES2L":48.4,"MIROC6":57.4,"MPI-ESM1-2-HR":26.4,"MPI-ESM1-2-LR":28.4,"MRI-ESM2-0":43.5,"NorESM2-LM":42.7,"NorESM2-MM":43.1,"UKESM1-0-LL":42.3},
      {"Year":2090,"IPSL-CM6A-LR":39,"MIROC-ES2L":42.7,"MIROC6":62.7,"MPI-ESM1-2-HR":30.9,"MPI-ESM1-2-LR":27.6,"MRI-ESM2-0":56.6,"NorESM2-LM":40.7,"NorESM2-MM":41.5,"UKESM1-0-LL":32.5},
      {"Year":2091,"IPSL-CM6A-LR":46,"MIROC-ES2L":44.3,"MIROC6":51.3,"MPI-ESM1-2-HR":34.9,"MPI-ESM1-2-LR":23.5,"MRI-ESM2-0":51.3,"NorESM2-LM":40.2,"NorESM2-MM":41.9,"UKESM1-0-LL":43.1},
      {"Year":2092,"IPSL-CM6A-LR":48,"MIROC-ES2L":46.4,"MIROC6":61.9,"MPI-ESM1-2-HR":39,"MPI-ESM1-2-LR":32.5,"MRI-ESM2-0":56.3,"NorESM2-LM":42.3,"NorESM2-MM":40.7,"UKESM1-0-LL":28.4},
      {"Year":2093,"IPSL-CM6A-LR":36.6,"MIROC-ES2L":42.3,"MIROC6":51.3,"MPI-ESM1-2-HR":31.3,"MPI-ESM1-2-LR":29.2,"MRI-ESM2-0":48.8,"NorESM2-LM":41.5,"NorESM2-MM":41.5,"UKESM1-0-LL":40.2},
      {"Year":2094,"IPSL-CM6A-LR":41.1,"MIROC-ES2L":42.3,"MIROC6":50.9,"MPI-ESM1-2-HR":26,"MPI-ESM1-2-LR":23.9,"MRI-ESM2-0":47.8,"NorESM2-LM":43.9,"NorESM2-MM":45.1,"UKESM1-0-LL":40.2},
      {"Year":2095,"IPSL-CM6A-LR":46.4,"MIROC-ES2L":41.5,"MIROC6":46.8,"MPI-ESM1-2-HR":30.9,"MPI-ESM1-2-LR":34.9,"MRI-ESM2-0":46.8,"NorESM2-LM":41.1,"NorESM2-MM":42.3,"UKESM1-0-LL":39.4},
      {"Year":2096,"IPSL-CM6A-LR":38.6,"MIROC-ES2L":43.5,"MIROC6":54.4,"MPI-ESM1-2-HR":28,"MPI-ESM1-2-LR":27.6,"MRI-ESM2-0":54.5,"NorESM2-LM":40.2,"NorESM2-MM":41.1,"UKESM1-0-LL":36.2},
      {"Year":2097,"IPSL-CM6A-LR":38.6,"MIROC-ES2L":43.9,"MIROC6":48,"MPI-ESM1-2-HR":25.6,"MPI-ESM1-2-LR":25.1,"MRI-ESM2-0":42.3,"NorESM2-LM":39.4,"NorESM2-MM":41.5,"UKESM1-0-LL":34.9},
      {"Year":2098,"IPSL-CM6A-LR":35.3,"MIROC-ES2L":41.9,"MIROC6":49.2,"MPI-ESM1-2-HR":29.2,"MPI-ESM1-2-LR":27.6,"MRI-ESM2-0":44.7,"NorESM2-LM":39,"NorESM2-MM":38.6,"UKESM1-0-LL":28.4},
      {"Year":2099,"IPSL-CM6A-LR":44.7,"MIROC-ES2L":43.1,"MIROC6":54.5,"MPI-ESM1-2-HR":34.1,"MPI-ESM1-2-LR":30.4,"MRI-ESM2-0":52.5,"NorESM2-LM":40.2,"NorESM2-MM":40.7,"UKESM1-0-LL":32.5},
      {"Year":2100,"IPSL-CM6A-LR":38.2,"MIROC-ES2L":45.6,"MIROC6":46.4,"MPI-ESM1-2-HR":28,"MPI-ESM1-2-LR":31.3,"MRI-ESM2-0":42.7,"NorESM2-LM":43.1,"NorESM2-MM":45.6,"UKESM1-0-LL":37.8}
    ]
  },
  "hconcat": [
    {
      "data": {"name": "left"},
      "transform": [{"fold": ["CanESM5","CESM2","CESM2-WACCM","CNRM-CM6-1","CNRM-ESM2-1","EC-Earth3","HadGEM3-GC31-MM"], "as": ["Model","Cover"]}],
      "title": "Snow Cover in Eurasia in March in CMIP6 Scenario SSP5-8.5",
      "width": 536,
      "height": 353,
      "mark": {"type": "line", "strokeWidth": 1.3, "strokeOpacity": 0.7},
      "encoding": {
        "x": {"field": "Year", "type": "quantitative", "scale": {"domain": [2011.6, 2103.4], "nice": false, "zero": false}, "axis": {"values": [2020,2040,2060,2080,2100], "format": "d", "title": "Year", "titlePadding": 6}},
        "y": {"field": "Cover", "type": "quantitative", "scale": {"domain": [16.8, 103.2], "nice": false, "zero": false}, "axis": {"values": [20,40,60,80,100], "title": "Snow Cover [%]", "labelAngle": -90, "titlePadding": 4}},
        "color": {"field": "Model", "type": "nominal",
          "scale": {"domain": ["CanESM5","CESM2","CESM2-WACCM","CNRM-CM6-1","CNRM-ESM2-1","EC-Earth3","HadGEM3-GC31-MM"," "],
                    "range": ["#FFD700","#0000FF","#FF0000","#A52A2A","#000080","#FFA500","#A020F0","transparent"]},
          "legend": {}}
      }
    },
    {
      "data": {"name": "right"},
      "transform": [{"fold": ["IPSL-CM6A-LR","MIROC-ES2L","MIROC6","MPI-ESM1-2-HR","MPI-ESM1-2-LR","MRI-ESM2-0","NorESM2-LM","NorESM2-MM","UKESM1-0-LL"], "as": ["Model","Cover"]}],
      "title": "Snow Cover in Eurasia in March in CMIP6 Scenario SSP5-8.5",
      "width": 536,
      "height": 353,
      "mark": {"type": "line", "strokeWidth": 1.3, "strokeOpacity": 0.7},
      "encoding": {
        "x": {"field": "Year", "type": "quantitative", "scale": {"domain": [2011.6, 2103.4], "nice": false, "zero": false}, "axis": {"values": [2020,2040,2060,2080,2100], "format": "d", "title": "Year", "titlePadding": 6}},
        "y": {"field": "Cover", "type": "quantitative", "scale": {"domain": [16.8, 103.2], "nice": false, "zero": false}, "axis": {"values": [20,40,60,80,100], "title": "Snow Cover [%]", "labelAngle": -90, "titlePadding": 4}},
        "color": {"field": "Model", "type": "nominal",
          "scale": {"domain": ["IPSL-CM6A-LR","MIROC-ES2L","MIROC6","MPI-ESM1-2-HR","MPI-ESM1-2-LR","MRI-ESM2-0","NorESM2-LM","NorESM2-MM","UKESM1-0-LL"],
                    "range": ["#228B22","#FFD700","#0000FF","#FF0000","#A52A2A","#000080","#FFA500","#20B2AA","#A020F0"]},
          "legend": {}}
      }
    }
  ],
  "resolve": {"scale": {"color": "independent"}}
}
